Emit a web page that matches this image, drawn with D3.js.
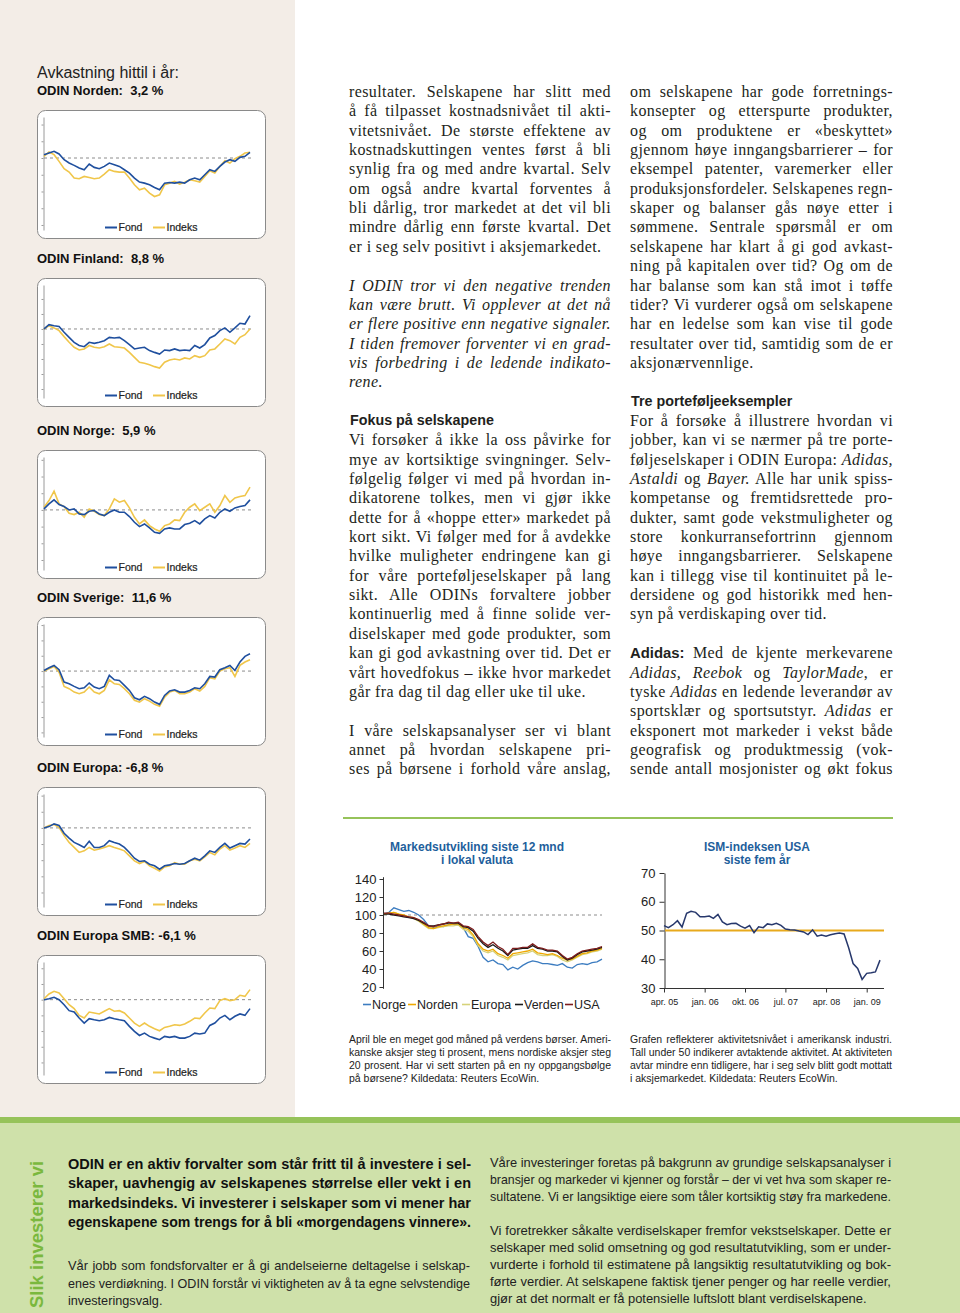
<!DOCTYPE html>
<html><head><meta charset="utf-8">
<script src="https://cdn.jsdelivr.net/npm/d3@7"></script>
<style>body{margin:0;background:#fff}svg{display:block}</style>
</head><body>
<svg id="page" width="960" height="1313"></svg>
<script>
// ---------------- DATA ----------------
const sidebarFunds = ["ODIN Norden", "ODIN Finland", "ODIN Norge", "ODIN Sverige", "ODIN Europa", "ODIN Europa SMB"];
const sidebarReturns = ["3,2 %", "8,8 %", "5,9 %", "11,6 %", "-6,8 %", "-6,1 %"];
const sidebarLegend = ["Fond", "Indeks"];
const sidebarDomains = [[-43, 24.5], [-46, 29.3], [-36, 31.7], [-43, 30.7], [-49, 21], [-48, 24]];

const nordenFond = [2,3,4,2.4,-1,-3,-4.4,-6,-7,-3.6,-5.6,-6.4,-5,-3,-4,-5,-7,-9,-12,-14.4,-15,-16,-17.6,-19,-15,-14.6,-15,-14.4,-15,-13,-12,-13,-10,-7,-8,-5,-2.4,-1,-2,0.4,1,3.4];
const nordenIndeks = [1,3.6,2,-2,-6.4,-8.4,-12,-12.4,-11,-11.6,-12.4,-12,-9.6,-7,-8,-8.4,-8.4,-12,-16,-19,-18,-21,-23,-22,-16,-15,-14,-15.6,-14.4,-13,-13.6,-14.4,-11,-7.6,-9,-5,-1.6,-3,-0.4,1,3,3.4];
const finlandFond = [0,2.9,2.2,1.6,-2.2,-5.6,-8.9,-11,-11.8,-8.9,-9.6,-8.9,-7.8,-5.6,-6,-5.6,-7.8,-10.4,-13.3,-12.7,-12.2,-14.4,-15.6,-16.7,-14,-14.4,-13.3,-14.4,-14,-14.4,-11,-12.7,-10.4,-6,-4.4,-1.1,0.7,-2.2,0.7,3.8,3.3,8.9];
const finlandIndeks = [0,2.2,0.7,-1.1,-5.1,-8.9,-12.2,-14,-13.3,-11,-12.2,-12.7,-11.8,-10,-11.8,-12.2,-12.7,-15.6,-18.9,-22.2,-22.9,-23.8,-25.1,-26,-22.2,-20.7,-20,-20.7,-19.3,-20,-17.8,-18.9,-17.8,-14,-13.3,-10,-6.7,-7.8,-10,-5.6,-3.8,0];
const norgeFond = [0.6,3.6,6,3.2,2,0,0.6,-2.4,-2.8,-0.8,-0.4,-2.4,-3.4,-1.4,0,-1.4,-1.4,-4,-7.4,-10,-8.4,-10.8,-13.4,-14,-11.4,-10.8,-11.4,-11.4,-8.8,-8,-6.4,-8.4,-5.4,-3.4,-4.8,-1.4,0.6,-0.8,1.2,2,2.6,6];
const norgeIndeks = [1.6,5.6,11.2,3.6,2,-2,-2.8,-1.4,-4.4,0.6,-0.8,-2.8,-3.4,0.6,6.6,4.6,5.6,1.2,-4.4,-8.4,-6,-9.4,-11.4,-12.8,-9.4,-8.4,-6,-6.4,-1.4,1.6,3.6,-0.4,1.6,3.6,-1.4,2.6,8.6,4.6,7.2,8,8.6,13.6];
const sverigeFond = [0.4,2.2,3.7,0.9,-7.2,-8.3,-10,-11.5,-10.9,-7.8,-10.4,-11.5,-10,-2.8,-5.7,-6.1,-9.3,-12.6,-17.4,-18.7,-16.5,-18,-20.2,-21.7,-15.9,-13,-12.2,-13.7,-13.7,-12.6,-10.9,-11.5,-8.3,-3.5,-3.9,0.9,2.2,3.7,0.4,5.9,9.6,11.3];
const sverigeIndeks = [0,1.5,3,-0.7,-10,-11.5,-13.7,-14.8,-13.7,-10.4,-13.7,-14.8,-12.6,-5.7,-8.3,-8.7,-11.5,-14.8,-19.1,-20.2,-18,-19.6,-21.7,-23,-17,-13.7,-12.6,-14.8,-14.8,-13.7,-11.5,-13,-10,-4.3,-5,0,1.5,2.2,-3.5,3.7,5.9,7.4];
const europaFond = [0,0.8,2.5,1.5,-3.3,-6.3,-9,-10.4,-12.1,-8.3,-12.1,-12.1,-11,-7.9,-9,-10,-12.1,-15.2,-18.8,-20.8,-20.4,-22.5,-23.5,-25.6,-23.5,-22.9,-22.1,-22.5,-22.1,-20.4,-18.8,-20,-17.3,-14.2,-15.2,-12.1,-9.6,-12.5,-11,-9.6,-10,-6.9];
const europaIndeks = [0,1.5,2.1,0.4,-4.8,-9,-12.1,-15.2,-14.2,-12.1,-13.8,-13.1,-12.1,-11,-12.1,-13.1,-14.2,-17.3,-20.4,-22.1,-20.8,-23.5,-25,-26.7,-24.2,-23.5,-21.5,-22.5,-22.5,-20.4,-19.4,-20.4,-17.9,-15.2,-16.7,-13.1,-11,-13.8,-12.5,-11,-12.1,-9.6];
const smbFond = [0,0.6,1.5,0,-3.2,-7,-7.9,-11.7,-14.9,-12.1,-12.8,-13.4,-12.8,-11.3,-12.1,-12.8,-13.4,-17,-20.2,-22.8,-21.3,-23.4,-24.5,-25.5,-23.4,-24,-23.4,-24.5,-24.5,-23.4,-21.3,-21.9,-21.3,-16.4,-14.9,-11.7,-10,-12.8,-10.6,-9.1,-10,-5.7];
const smbIndeks = [0.6,3.6,5.3,4.3,0.6,-3.2,-5.7,-10,-11.7,-7.9,-8.5,-9.1,-7.4,-5.7,-7.4,-7,-8.5,-11.7,-14.9,-17,-14.9,-17,-18.5,-19.8,-17.7,-17,-16,-16.4,-15.5,-13.8,-11.7,-12.1,-8.5,-5.3,-5.7,-0.6,0.6,-0.6,0,2.8,2.1,6.4];

const marketTitle = ["Markedsutvikling siste 12 mnd", "i lokal valuta"];
const marketNames = ["Norge", "Norden", "Europa", "Verden", "USA"];
const marketTicks = [20, 40, 60, 80, 100, 120, 140];
const norge12m = [101,103,108,106,104,105,103,100,95,88,86,88,87,89,90,89,86,76,74,65,53,48,50,46,45,39,42,40,44,47,49,48,46,46,45,44,46,42,41,45,46,45,47,48,51];
const norden12m = [101,102,103,101,100,98,97,94,90,86,85,87,88,89,90,90,86,84,78,68,62,60,62,57,55,52,57,58,59,60,62,58,57,56,57,55,52,50,51,54,57,58,60,61,63];
const europa12m = [101,102,103,101,99,98,96,93,89,85,85,86,87,88,88,89,84,82,76,66,60,58,60,55,53,50,55,56,57,58,60,56,55,55,56,54,50,48,50,53,56,57,59,60,62];
const verden12m = [101,101,100,99,98,97,96,94,91,88,88,89,90,91,91,91,87,86,82,74,68,64,67,63,60,55,61,62,63,63,66,63,62,60,60,59,54,50,52,56,59,60,61,62,64];
const usa12m = [102,102,101,100,99,98,97,95,92,88,87,89,90,92,91,92,88,87,84,76,70,66,70,65,62,56,63,63,64,64,68,64,63,61,61,60,55,51,53,57,60,61,62,63,65];

const ismTitle = ["ISM-indeksen USA", "siste fem år"];
const ismStart = "2005-04";
const ismTickLabels = ["apr. 05", "jan. 06", "okt. 06", "jul. 07", "apr. 08", "jan. 09"];
const ismYTicks = [30, 40, 50, 60, 70];
const ismThreshold = 50;
const ismValues = [51.7,51,52,53.4,51.2,56,56.7,56.3,54.8,54.8,55,54.2,55.6,53,52,52.4,52.5,51.5,50.8,51.7,49.2,51.3,51,52.3,52,52.5,51.8,50.5,50.3,50.2,49.8,49.5,48.6,50.2,48,48.4,48,48.5,48.9,49.1,48.8,44,38.5,36.8,33,35.1,35.3,35.6,39.7];

// ---------------- TEXT ----------------
const col2Lines = [
 "resultater. Selskapene har slitt med",
 "å få tilpasset kostnadsnivået til akti-",
 "vitetsnivået. De største effektene av",
 "kostnadskuttingen ventes først å bli",
 "synlig fra og med andre kvartal. Selv",
 "om også andre kvartal forventes å",
 "bli dårlig, tror markedet at det vil bli",
 "mindre dårlig enn første kvartal. Det",
 "er i seg selv positivt i aksjemarkedet.|",
 "",
 "_I ODIN tror vi den negative trenden_",
 "_kan være brutt. Vi opplever at det nå_",
 "_er flere positive enn negative signaler._",
 "_I tiden fremover forventer vi en grad-_",
 "_vis forbedring i de ledende indikato-_",
 "_rene._|",
 "",
 "#Fokus på selskapene",
 "Vi forsøker å ikke la oss påvirke for",
 "mye av kortsiktige svingninger. Selv-",
 "følgelig følger vi med på hvordan in-",
 "dikatorene tolkes, men vi gjør ikke",
 "dette for å «hoppe etter» markedet på",
 "kort sikt. Vi følger med for å avdekke",
 "hvilke muligheter endringene kan gi",
 "for våre porteføljeselskaper på lang",
 "sikt. Alle ODINs forvaltere jobber",
 "kontinuerlig med å finne solide ver-",
 "diselskaper med gode produkter, som",
 "kan gi god avkastning over tid. Det er",
 "vårt hovedfokus – ikke hvor markedet",
 "går fra dag til dag eller uke til uke.|",
 "",
 "I våre selskapsanalyser ser vi blant",
 "annet på hvordan selskapene pri-",
 "ses på børsene i forhold våre anslag,"
];
const col3Lines = [
 "om selskapene har gode forretnings-",
 "konsepter og etterspurte produkter,",
 "og om produktene er «beskyttet»",
 "gjennom høye inngangsbarrierer – for",
 "eksempel patenter, varemerker eller",
 "produksjonsfordeler. Selskapenes regn-",
 "skaper og balanser gås nøye etter i",
 "sømmene. Sentrale spørsmål er om",
 "selskapene har klart å gi god avkast-",
 "ning på kapitalen over tid? Og om de",
 "har balanse som kan stå imot i tøffe",
 "tider? Vi vurderer også om selskapene",
 "har en ledelse som kan vise til gode",
 "resultater over tid, samtidig som de er",
 "aksjonærvennlige.|",
 "",
 "#Tre porteføljeeksempler",
 "For å forsøke å illustrere hvordan vi",
 "jobber, kan vi se nærmer på tre porte-",
 "føljeselskaper i ODIN Europa: _Adidas,_",
 "_Astaldi_ og _Bayer._ Alle har unik spiss-",
 "kompetanse og fremtidsrettede pro-",
 "dukter, samt gode vekstmuligheter og",
 "store konkurransefortrinn gjennom",
 "høye inngangsbarrierer. Selskapene",
 "kan i tillegg vise til kontinuitet på le-",
 "dersidene og god historikk med hen-",
 "syn på verdiskaping over tid.|",
 "",
 "*Adidas:* Med de kjente merkevarene",
 "_Adidas, Reebok_ og _TaylorMade_, er",
 "tyske _Adidas_ en ledende leverandør av",
 "sportsklær og sportsutstyr. _Adidas_ er",
 "eksponert mot markeder i vekst både",
 "geografisk og produktmessig (vok-",
 "sende antall mosjonister og økt fokus"
];
const caption2Lines = [
 "April ble en meget god måned på verdens børser. Ameri-",
 "kanske aksjer steg ti prosent, mens  nordiske aksjer steg",
 "20 prosent. Har vi sett starten på en ny oppgangsbølge",
 "på børsene? Kildedata: Reuters EcoWin.|"
];
const caption3Lines = [
 "Grafen reflekterer aktivitetsnivået i amerikansk industri.",
 "Tall under 50 indikerer avtaktende aktivitet. At aktiviteten",
 "avtar mindre enn tidligere, har i seg selv blitt godt mottatt",
 "i aksjemarkedet. Kildedata: Reuters EcoWin.|"
];
const greenBoldLines = [
 "ODIN er en aktiv forvalter som står fritt til å investere i sel-",
 "skaper, uavhengig av  selskapenes størrelse eller vekt i en",
 "markedsindeks. Vi investerer i selskaper som vi mener har",
 "egenskapene som trengs for å bli «morgendagens vinnere»."
];
const greenLeftLines = [
 "Vår jobb som fondsforvalter er å gi andelseierne deltagelse i selskap-",
 "enes verdiøkning. I ODIN forstår vi viktigheten av å ta egne selvstendige",
 "investeringsvalg.|"
];
const greenRightLines = [
 "Våre investeringer foretas på bakgrunn av grundige selskapsanalyser i",
 "bransjer og markeder vi kjenner og forstår – der vi vet hva som skaper re-",
 "sultatene. Vi er langsiktige eiere som tåler kortsiktig støy fra markedene.",
 "",
 "Vi foretrekker såkalte verdiselskaper fremfor vekstselskaper. Dette er",
 "selskaper med solid omsetning og god resultatutvikling, som er under-",
 "vurderte i forhold til estimatene på langsiktig resultatutvikling og bok-",
 "førte verdier. At selskapene faktisk tjener penger og har reelle verdier,",
 "gjør at det normalt er få potensielle luftslott blant verdiselskapene.|"
];

// ---------------- DRAWING ----------------
const sans = "'Liberation Sans', Arial, sans-serif";
const serif = "'Liberation Serif', 'Times New Roman', serif";
const svg = d3.select("#page");

svg.append("rect").attr("x",0).attr("y",0).attr("width",960).attr("height",1313).attr("fill","#fff");
svg.append("rect").attr("x",0).attr("y",0).attr("width",295).attr("height",1118).attr("fill","#f3ede7");
svg.append("rect").attr("x",0).attr("y",1118).attr("width",960).attr("height",195).attr("fill","#cfe1aa");
svg.append("rect").attr("x",0).attr("y",1117).attr("width",960).attr("height",6).attr("fill","#96c35a");

function segs(str) {
  return str.split(/(_[^_]+_|\*[^*]+\*)/).filter(s => s.length).map(s => {
    if (s[0] === "_" && s[s.length-1] === "_" && s.length > 1) return {t: s.slice(1,-1), i: true};
    if (s[0] === "*" && s[s.length-1] === "*" && s.length > 1) return {t: s.slice(1,-1), b: true};
    return {t: s};
  });
}

function textBlock(lines, o) {
  const g = svg.append("g");
  const nodes = [];
  lines.forEach((raw, i) => {
    if (raw === "") return;
    const y = o.y + i * o.lh;
    if (raw[0] === "#") {
      g.append("text").attr("x", o.x + 1).attr("y", y - 1).attr("font-family", sans)
        .attr("font-weight", "bold").attr("font-size", o.headSize || 14).attr("fill", o.fill)
        .text(raw.slice(1));
      return;
    }
    const last = raw.endsWith("|");
    const str = last ? raw.slice(0, -1) : raw;
    const t = g.append("text").attr("x", o.x).attr("y", y).attr("font-family", o.family)
      .attr("font-size", o.size).attr("font-weight", o.weight || "normal").attr("fill", o.fill);
    if (o.ls) t.attr("letter-spacing", o.ls);
    segs(str).forEach(s => {
      const ts = t.append("tspan").text(s.t);
      if (s.i) ts.attr("font-style", "italic");
      if (s.b) ts.attr("font-weight", "bold").attr("font-family", sans).attr("font-size", o.size * 0.93).attr("letter-spacing", 0);
    });
    nodes.push({t, last, str: str.replace(/ +/g, " ")});
  });
  const ks = [];
  nodes.forEach(n => {
    n.w = n.t.node().getComputedTextLength();
    if (!n.last) {
      const spaces = (n.str.match(/ /g) || []).length;
      if (n.w > o.width) {
        n.t.attr("textLength", o.width).attr("lengthAdjust", "spacingAndGlyphs");
        ks.push(o.width / n.w);
      } else {
        if (spaces) n.t.style("word-spacing", ((o.width - n.w) / spaces) + "px");
        ks.push(1);
      }
    }
  });
  const k = ks.length ? d3.median(ks) : 1;
  if (k < 1) nodes.filter(n => n.last).forEach(n =>
    n.t.attr("textLength", n.w * k).attr("lengthAdjust", "spacingAndGlyphs"));
}

// ---- sidebar ----
svg.append("text").attr("x", 37).attr("y", 78).attr("font-family", sans).attr("font-size", 16)
  .attr("fill", "#222").text("Avkastning hittil i år:");

const fondSeries = [nordenFond, finlandFond, norgeFond, sverigeFond, europaFond, smbFond];
const indeksSeries = [nordenIndeks, finlandIndeks, norgeIndeks, sverigeIndeks, europaIndeks, smbIndeks];
const titleBaselines = [95, 263, 435, 602, 772, 940];
const fondColor = "#1f4f9e", indeksColor = "#f0c64a";

sidebarFunds.forEach((name, i) => {
  const tb = titleBaselines[i];
  const top = tb + 15, bot = top + 128;
  const sep = i < 4 ? ":\u00a0 " : ": ";
  svg.append("text").attr("x", 37).attr("y", tb).attr("font-family", sans).attr("font-size", 13)
    .attr("font-weight", "bold").attr("fill", "#111").text(name + sep + sidebarReturns[i]);
  svg.append("rect").attr("x", 37.5).attr("y", top + 0.5).attr("width", 228).attr("height", 128)
    .attr("rx", 8).attr("fill", "#fff").attr("stroke", "#8a8a8a").attr("stroke-width", 1);
  const fond = fondSeries[i], idx = indeksSeries[i];
  const x = d3.scaleLinear().domain([0, fond.length - 1]).range([44, 250]);
  const y = d3.scaleLinear().domain(sidebarDomains[i]).range([bot - 8, top + 7]);
  const g = svg.append("g");
  const ax = d3.axisLeft(y).tickValues(d3.range(Math.ceil(sidebarDomains[i][0] / 10) * 10, sidebarDomains[i][1], 10))
    .tickSize(2).tickSizeOuter(0).tickFormat("");
  g.append("g").attr("transform", "translate(43.5,0)").call(ax)
    .call(a => a.selectAll("path,line").attr("stroke", "#9a9a9a"));
  g.append("line").attr("x1", 44).attr("x2", 251).attr("y1", y(0)).attr("y2", y(0))
    .attr("stroke", "#8c8c8c").attr("stroke-dasharray", "3,3").attr("stroke-width", 1);
  const line = d3.line().x((d, j) => x(j)).y(d => y(d));
  g.append("path").datum(idx).attr("d", line).attr("fill", "none").attr("stroke", indeksColor).attr("stroke-width", 1.6);
  g.append("path").datum(fond).attr("d", line).attr("fill", "none").attr("stroke", fondColor).attr("stroke-width", 1.6);
  const ly = bot - 7;
  [[105, fondColor, sidebarLegend[0]], [153, indeksColor, sidebarLegend[1]]].forEach(([lx, c, lab]) => {
    g.append("line").attr("x1", lx).attr("x2", lx + 12).attr("y1", ly - 3.5).attr("y2", ly - 3.5)
      .attr("stroke", c).attr("stroke-width", 2);
    g.append("text").attr("x", lx + 13.5).attr("y", ly).attr("font-family", sans).attr("font-size", 10.5)
      .attr("fill", "#222").attr("stroke", "#222").attr("stroke-width", 0.2).text(lab);
  });
});

// ---- columns ----
textBlock(col2Lines, {x: 349, y: 97, lh: 19.35, width: 262, family: serif, size: 16, ls: 0.4, fill: "#231f20", headSize: 14.3});
textBlock(col3Lines, {x: 630, y: 97, lh: 19.35, width: 263, family: serif, size: 16, ls: 0.4, fill: "#231f20", headSize: 14.3});

svg.append("line").attr("x1", 343).attr("x2", 893).attr("y1", 818).attr("y2", 818)
  .attr("stroke", "#96c35a").attr("stroke-width", 2);

// ---- market chart ----
(function(){
  const g = svg.append("g");
  marketTitle.forEach((t, i) => g.append("text").attr("x", 477).attr("y", 851 + i * 12.5).attr("text-anchor", "middle")
    .attr("font-family", sans).attr("font-size", 12).attr("font-weight", "bold").attr("fill", "#1f5f9c").text(t));
  const x = d3.scaleLinear().domain([0, norge12m.length - 1]).range([384, 602]);
  const y = d3.scaleLinear().domain([20, 140]).range([987, 879]);
  const ax = d3.axisLeft(y).tickValues(marketTicks).tickSize(4).tickSizeOuter(0).tickPadding(3);
  const a = g.append("g").attr("transform", "translate(383.5,0)").call(ax);
  a.select(".domain").attr("d", `M0,${y(142)}V${y(18)}`).attr("stroke", "#333");
  a.selectAll("line").attr("stroke", "#333");
  a.selectAll("text").attr("font-family", sans).attr("font-size", 13).attr("fill", "#222");
  g.append("line").attr("x1", 384).attr("x2", 602).attr("y1", y(100)).attr("y2", y(100))
    .attr("stroke", "#8c8c8c").attr("stroke-dasharray", "3,3");
  const colors = {Norge: "#3c7cc0", Norden: "#efa900", Europa: "#d6d27a", Verden: "#1a1a1a", USA: "#7c1d1d"};
  const series = {Norge: norge12m, Norden: norden12m, Europa: europa12m, Verden: verden12m, USA: usa12m};
  const line = d3.line().x((d, j) => x(j)).y(d => y(d));
  ["Norge", "Europa", "Norden", "Verden", "USA"].forEach(n =>
    g.append("path").datum(series[n]).attr("d", line).attr("fill", "none").attr("stroke", colors[n]).attr("stroke-width", 1.3));
  const lx = [363, 408, 462, 515, 565];
  marketNames.forEach((n, i) => {
    g.append("line").attr("x1", lx[i]).attr("x2", lx[i] + 8).attr("y1", 1004.5).attr("y2", 1004.5)
      .attr("stroke", colors[n]).attr("stroke-width", 1.6);
    g.append("text").attr("x", lx[i] + 9).attr("y", 1009).attr("font-family", sans).attr("font-size", 12.5)
      .attr("fill", "#222").text(n);
  });
})();

// ---- ISM chart ----
(function(){
  const g = svg.append("g");
  ismTitle.forEach((t, i) => g.append("text").attr("x", 757).attr("y", 851 + i * 12.5).attr("text-anchor", "middle")
    .attr("font-family", sans).attr("font-size", 12).attr("font-weight", "bold").attr("fill", "#1f5f9c").text(t));
  const parse = d3.timeParse("%Y-%m");
  const start = parse(ismStart);
  const dates = ismValues.map((v, i) => d3.timeMonth.offset(start, i));
  const x = d3.scaleTime().domain([start, dates[dates.length - 1]]).range([664, 880]);
  const y = d3.scaleLinear().domain([30, 70]).range([988, 873]);
  const ay = d3.axisLeft(y).tickValues(ismYTicks).tickSize(5).tickSizeOuter(0).tickPadding(4);
  const a1 = g.append("g").attr("transform", "translate(664.5,0)").call(ay);
  a1.selectAll("path,line").attr("stroke", "#333");
  a1.selectAll("text").attr("font-family", sans).attr("font-size", 13).attr("fill", "#222");
  const tickDates = ismTickLabels.map((l, i) => d3.timeMonth.offset(start, i * 9));
  const axx = d3.axisBottom(x).tickValues(tickDates).tickSize(4).tickSizeOuter(0).tickPadding(6)
    .tickFormat((d, i) => ismTickLabels[i]);
  const a2 = g.append("g").attr("transform", `translate(0,${y(30) + 0.5})`).call(axx);
  a2.select(".domain").attr("d", `M664,0H884`).attr("stroke", "#333");
  a2.selectAll("line").attr("stroke", "#333");
  a2.selectAll("text").attr("font-family", sans).attr("font-size", 9).attr("fill", "#222");
  g.append("line").attr("x1", 665).attr("x2", 884).attr("y1", y(ismThreshold)).attr("y2", y(ismThreshold))
    .attr("stroke", "#e8a91c").attr("stroke-width", 2);
  g.append("path").datum(ismValues).attr("d", d3.line().x((d, i) => x(dates[i])).y(d => y(d)))
    .attr("fill", "none").attr("stroke", "#27386c").attr("stroke-width", 1.5);
})();

// ---- captions ----
textBlock(caption2Lines, {x: 349, y: 1043, lh: 13, width: 262, family: sans, size: 10.5, fill: "#222"});
textBlock(caption3Lines, {x: 630, y: 1043, lh: 13, width: 262, family: sans, size: 10.5, fill: "#222"});

// ---- green band ----
svg.append("text").attr("transform", "translate(43,1308) rotate(-90)").attr("font-family", sans)
  .attr("font-size", 18.5).attr("font-weight", "bold").attr("fill", "#7ab83e").text("Slik investerer vi");
textBlock(greenBoldLines, {x: 68, y: 1169, lh: 19.3, width: 403, family: sans, size: 14.5, weight: "bold", fill: "#111"});
textBlock(greenLeftLines, {x: 68, y: 1270, lh: 17.5, width: 402, family: sans, size: 12.8, fill: "#222"});
textBlock(greenRightLines, {x: 490, y: 1167, lh: 17, width: 401, family: sans, size: 13.1, fill: "#222"});
</script>
</body></html>
